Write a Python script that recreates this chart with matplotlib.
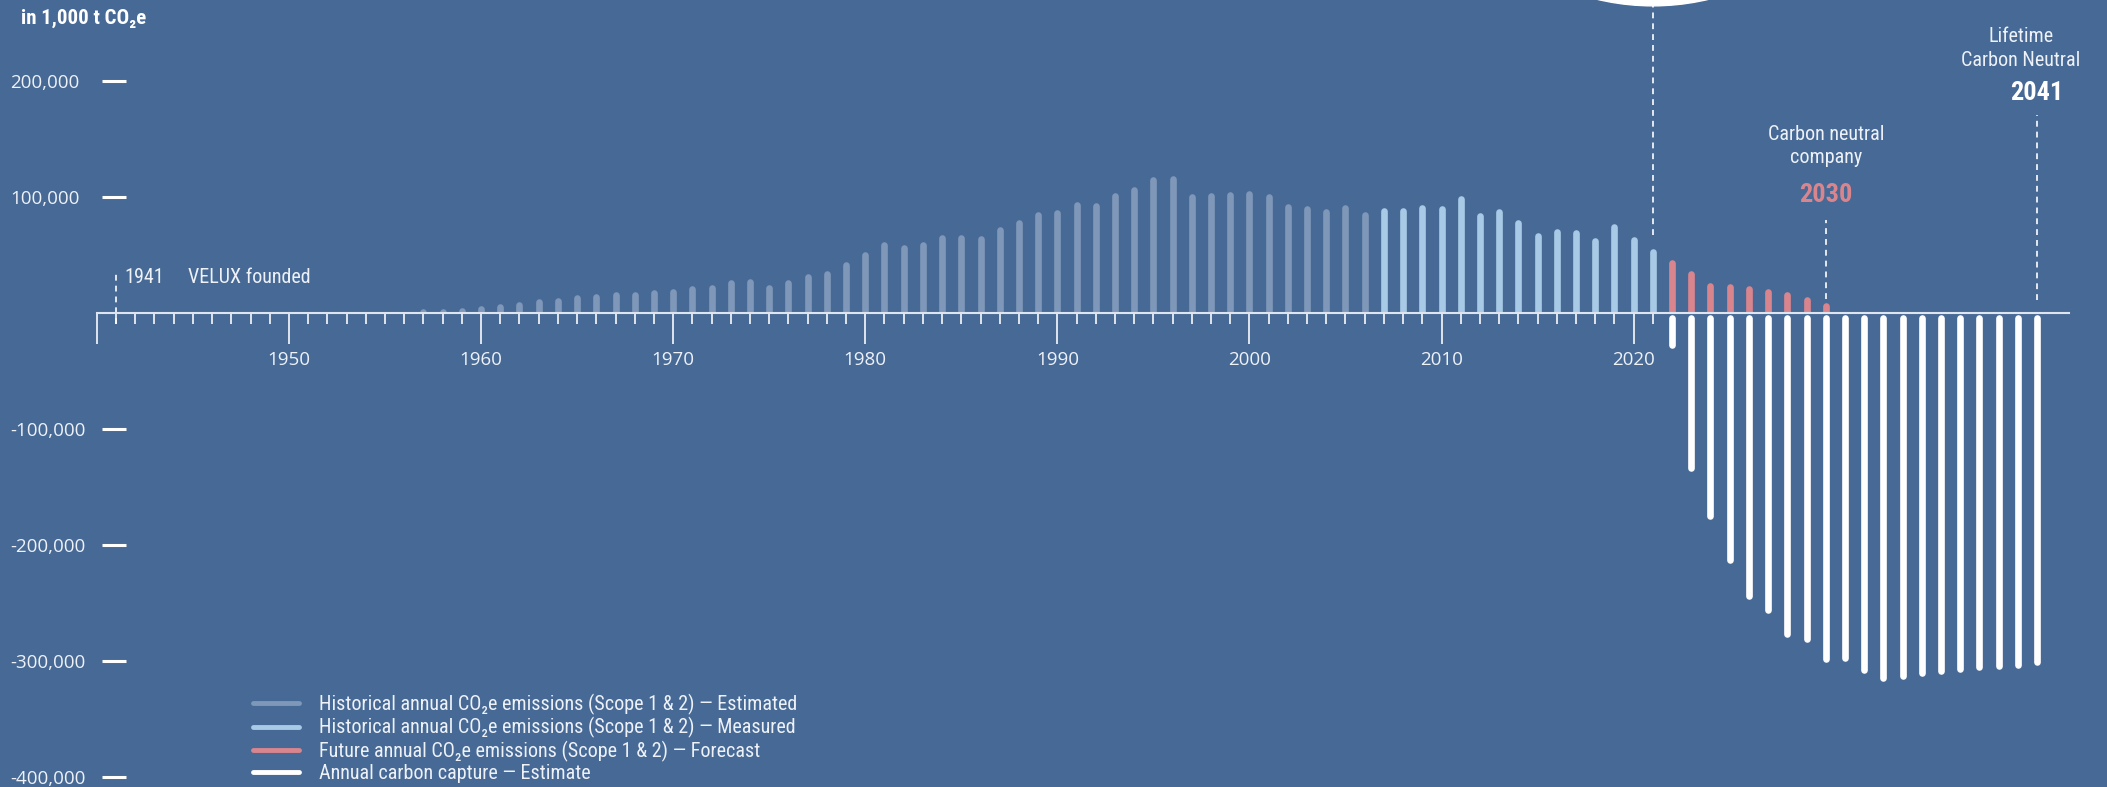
import matplotlib
matplotlib.use('Agg')
import matplotlib.pyplot as plt
from matplotlib import font_manager
from matplotlib.font_manager import FontProperties
from matplotlib.lines import Line2D
from matplotlib.patches import Ellipse
from matplotlib.transforms import Bbox, TransformedBbox

# colours
BG = '#476996'
TEXT = '#eef2f7'
AXIS = '#dfe5ee'
C_ESTIMATED = '#7f97b8'
C_MEASURED = '#a8cae6'
C_FORECAST = '#d9858e'
C_CAPTURE = '#ffffff'

# data (in 1,000 t CO2e)
years_estimated = list(range(1953, 2007))
emissions_estimated = [
    100, 200, 300, 400, 700, 1200, 2100, 3500, 5200, 7200,
    9200, 10400, 12900, 13500, 15500, 15300, 17000, 18100, 20700, 21900,
    25600, 26800, 21300, 25900, 31100, 33700, 41800, 50000, 59000, 56400,
    59000, 64400, 64800, 63900, 71400, 77400, 84900, 86600, 93000, 92700,
    101300, 106500, 114800, 116000, 99900, 101000, 101900, 103100, 100100, 91500,
    89500, 87200, 90400, 84600,
]
years_measured = list(range(2007, 2022))
emissions_measured = [88400, 88100, 90600, 89800, 98700, 84100, 86900, 78000,
                      66800, 69700, 69400, 62500, 74300, 62800, 52700]
years_forecast = list(range(2022, 2031))
emissions_forecast = [42900, 34000, 23400, 22500, 21100, 17900, 15900, 11000, 6400]
years_capture = list(range(2022, 2042))
capture_estimate = [-27700, -134100, -174900, -213500, -244000, -256600, -276800,
                    -281700, -298600, -298000, -308100, -315300, -313000, -310400,
                    -308700, -307200, -305800, -304400, -303300, -301500]

y_ticks = [200000, 100000, -100000, -200000, -300000, -400000]
decades = list(range(1940, 2021, 10))
legend_labels = [
    'Historical annual CO₂e emissions (Scope 1 & 2) — Estimated',
    'Historical annual CO₂e emissions (Scope 1 & 2) — Measured',
    'Future annual CO₂e emissions (Scope 1 & 2) — Forecast',
    'Annual carbon capture — Estimate',
]
legend_colors = [C_ESTIMATED, C_MEASURED, C_FORECAST, C_CAPTURE]

# fonts: a narrow face for the annotations if one is installed
available = {f.name for f in font_manager.fontManager.ttflist}
narrow = [n for n in ('Roboto Condensed', 'Liberation Sans Narrow', 'Open Sans Condensed')
          if n in available]
COND = narrow[:1] + ['DejaVu Sans']
plt.rcParams['font.family'] = ['Open Sans', 'DejaVu Sans']
NOTE_SIZE = 14.5

fig = plt.figure(figsize=(21.07, 7.87), dpi=100, facecolor=BG)
ax = fig.add_axes([0, 0, 1, 1], facecolor=BG)
ax.set_xlim(1934.96, 2044.64)
ax.set_ylim(-408970, 270060)

# bars
above_zero = TransformedBbox(Bbox.from_extents(1930, 0, 2050, 300000), ax.transData)
for yrs, vals, col in [(years_estimated, emissions_estimated, C_ESTIMATED),
                       (years_measured, emissions_measured, C_MEASURED),
                       (years_forecast, emissions_forecast, C_FORECAST)]:
    bars = ax.vlines(yrs, 0, vals, colors=col, lw=4.8, zorder=2)
    bars.set_capstyle('round')
    bars.set_clip_box(above_zero)

capture = ax.vlines(years_capture, -4600, capture_estimate, colors=C_CAPTURE, lw=4.8, zorder=2)
capture.set_capstyle('round')

# axes styling
for s in ['top', 'right']:
    ax.spines[s].set_visible(False)
ax.spines['bottom'].set_position(('data', 0))
ax.spines['bottom'].set_bounds(1940, 2042.66)
ax.spines['bottom'].set_color(AXIS)
ax.spines['bottom'].set_linewidth(1.5)
ax.spines['bottom'].set_zorder(3)
ax.spines['left'].set_position(('data', 1940.27))
ax.spines['left'].set_color('none')

ax.set_xticks(decades, ['' if d == 1940 else str(d) for d in decades])
ax.set_xticks([y for y in range(1941, 2022) if y % 10], minor=True)
ax.tick_params(axis='x', which='major', direction='out', length=22.5, width=1.4,
               color=AXIS, pad=5, labelsize=13.5, labelcolor=TEXT)
ax.tick_params(axis='x', which='minor', direction='out', length=8, width=1.4, color=AXIS)

ax.set_yticks(y_ticks, [f'{v:,}' for v in y_ticks])
ax.tick_params(axis='y', direction='in', length=17.3, width=2.2, color='white',
               pad=66, labelsize=13.5, labelcolor=TEXT)
for lbl in ax.get_yticklabels():
    lbl.set_horizontalalignment('left')

# unit label
ax.text(0.0098, 0.977, 'in 1,000 t CO₂e', transform=ax.transAxes, ha='left', va='center',
        fontsize=15, fontweight='bold', family=COND, color='white')

# annotations
dash = (0, (3.5, 3))
ax.vlines(1941, -9500, 35400, colors='white', lw=1.2, linestyles=dash)
ax.annotate('1941', xy=(1941, 30460), xytext=(6, 0), textcoords='offset points',
            ha='left', va='center', fontsize=NOTE_SIZE, family=COND, color=TEXT)
ax.annotate('VELUX founded', xy=(1941, 30460), xytext=(51.5, 0), textcoords='offset points',
            ha='left', va='center', fontsize=NOTE_SIZE, family=COND, color=TEXT)

ax.add_patch(Ellipse((2021, 472000), 25, 414000, color='white', zorder=4))
ax.vlines(2021, 67300, 270060, colors='white', lw=1.2, linestyles=dash)

ax.vlines(2030, 12500, 80200, colors='white', lw=1.2, linestyles=dash)
ax.text(2030, 144300, 'Carbon neutral\ncompany', ha='center', va='center', linespacing=1.3,
        fontsize=NOTE_SIZE, family=COND, color=TEXT)
ax.text(2030, 101800, '2030', ha='center', va='center', fontsize=19, fontweight='bold',
        family=COND, color=C_FORECAST)

ax.vlines(2041, 11200, 170800, colors='white', lw=1.2, linestyles=dash)
ax.annotate('Lifetime\nCarbon Neutral', xy=(2041, 228000), xytext=(-11.5, 0),
            textcoords='offset points', ha='center', va='center', linespacing=1.3,
            fontsize=NOTE_SIZE, family=COND, color=TEXT)
ax.text(2041, 189500, '2041', ha='center', va='center', fontsize=19, fontweight='bold',
        family=COND, color='white')

# legend
handles = [Line2D([], [], color=c, lw=3.5, solid_capstyle='round') for c in legend_colors]
ax.legend(handles, legend_labels, loc='upper left', bbox_to_anchor=(0.1201, 0.1185),
          frameon=False, prop=FontProperties(family=COND, size=NOTE_SIZE), labelcolor=TEXT,
          handlelength=2.3, handletextpad=0.95, labelspacing=0.12, borderpad=0, borderaxespad=0)

fig.savefig('out.png', dpi=100, facecolor=BG)
